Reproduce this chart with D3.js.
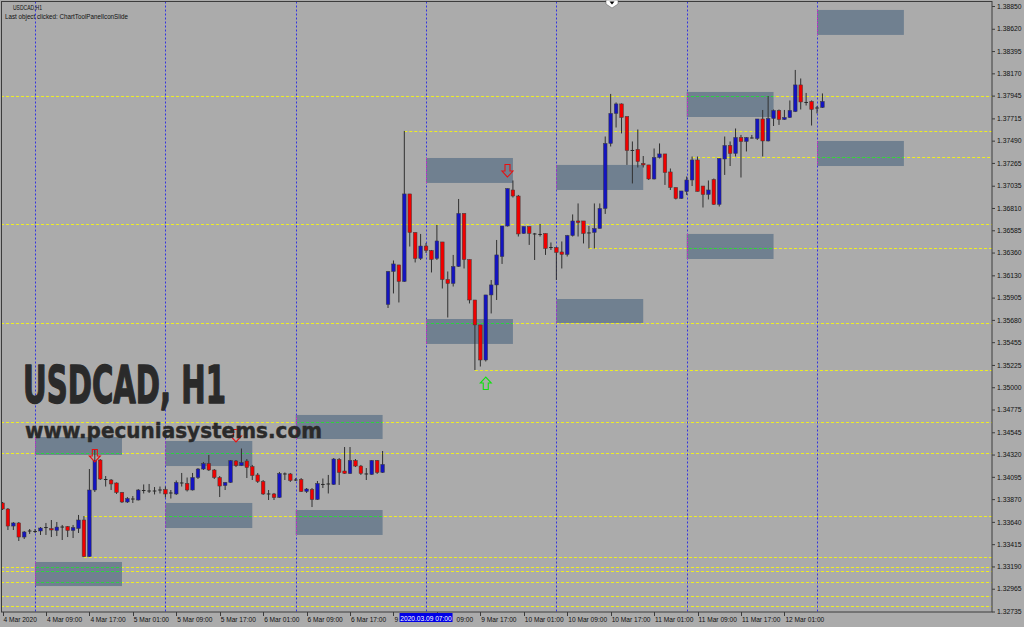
<!DOCTYPE html>
<html><head><meta charset="utf-8">
<script src="https://cdn.jsdelivr.net/npm/d3@7"></script>
<style>
html,body{margin:0;padding:0;background:#ababab;overflow:hidden;}
svg{display:block;}
</style></head><body>
<svg id="c" width="1024" height="627"></svg>
<script>
// ---------------- DATA ----------------
const opens = [1.33831,1.33770,1.33598,1.33629,1.33487,1.33553,1.33548,1.33548,1.33588,1.33573,1.33553,1.33593,1.33593,1.33553,1.33573,1.33659,1.33290,1.33962,1.34265,1.34073,1.34063,1.34033,1.33937,1.33841,1.33876,1.33861,1.33962,1.33957,1.33955,1.33965,1.33967,1.33935,1.33922,1.34038,1.34028,1.33962,1.34088,1.34174,1.34230,1.34164,1.34088,1.34007,1.34038,1.34255,1.34209,1.34255,1.34199,1.34114,1.34048,1.33927,1.33922,1.33886,1.34129,1.34124,1.34068,1.34068,1.33947,1.33967,1.33866,1.34023,1.34026,1.34018,1.34270,1.34154,1.34129,1.34260,1.34204,1.34129,1.34119,1.34260,1.34139,1.35836,1.36169,1.36235,1.36068,1.36952,1.36563,1.36300,1.36426,1.36381,1.36300,1.36467,1.36088,1.36048,1.36219,1.36755,1.36290,1.35881,1.35629,1.35275,1.35932,1.36033,1.36320,1.36628,1.36992,1.36931,1.36553,1.36623,1.36553,1.36546,1.36553,1.36406,1.36411,1.36366,1.36341,1.36532,1.36679,1.36679,1.36563,1.36563,1.36603,1.36805,1.37462,1.37765,1.37861,1.37734,1.37394,1.37401,1.37260,1.37245,1.37103,1.37320,1.37356,1.37174,1.37017,1.36906,1.36977,1.37093,1.37295,1.37032,1.36947,1.37098,1.36846,1.37305,1.37441,1.37361,1.37522,1.37482,1.37520,1.37512,1.37709,1.37487,1.37714,1.37795,1.37704,1.37724,1.37784,1.38053,1.37881,1.37886,1.37815,1.37825];
const highs = [1.33841,1.33780,1.33639,1.33639,1.33548,1.33568,1.33568,1.33588,1.33629,1.33659,1.33639,1.33609,1.33598,1.33609,1.33710,1.33699,1.34174,1.34366,1.34275,1.34103,1.34073,1.34038,1.33942,1.33891,1.33901,1.33972,1.34018,1.34023,1.33992,1.33997,1.33997,1.33962,1.34058,1.34134,1.34088,1.34134,1.34184,1.34245,1.34316,1.34174,1.34103,1.34043,1.34265,1.34265,1.34381,1.34275,1.34215,1.34134,1.34063,1.33962,1.33932,1.34144,1.34139,1.34134,1.34083,1.34083,1.33982,1.33982,1.34053,1.34078,1.34114,1.34285,1.34285,1.34396,1.34396,1.34275,1.34215,1.34184,1.34265,1.34265,1.34356,1.36174,1.36280,1.36235,1.37588,1.36952,1.36563,1.36548,1.36457,1.36386,1.36639,1.36467,1.36169,1.36336,1.36901,1.36755,1.36290,1.35881,1.35629,1.35932,1.36083,1.36487,1.36628,1.37007,1.37088,1.36942,1.36623,1.36623,1.36558,1.36649,1.36553,1.36462,1.36416,1.36472,1.36538,1.36745,1.36856,1.36679,1.36628,1.36856,1.36856,1.37532,1.37962,1.37876,1.37866,1.37734,1.37482,1.37603,1.37335,1.37245,1.37411,1.37462,1.37356,1.37209,1.37017,1.36982,1.37128,1.37330,1.37330,1.37032,1.37088,1.37108,1.37310,1.37532,1.37482,1.37613,1.37548,1.37527,1.37548,1.37709,1.37800,1.37941,1.37805,1.37805,1.37800,1.37896,1.38204,1.38118,1.37972,1.37896,1.37840,1.37967];
const lows = [1.33760,1.33558,1.33558,1.33447,1.33467,1.33518,1.33528,1.33508,1.33508,1.33487,1.33497,1.33457,1.33487,1.33477,1.33528,1.33285,1.33285,1.33942,1.34063,1.33997,1.33962,1.33922,1.33831,1.33831,1.33831,1.33856,1.33927,1.33932,1.33917,1.33927,1.33886,1.33876,1.33912,1.33997,1.33947,1.33957,1.34073,1.34164,1.34154,1.34073,1.33891,1.33962,1.34033,1.34194,1.34204,1.34083,1.34063,1.34033,1.33912,1.33861,1.33861,1.33881,1.34063,1.34043,1.34053,1.33942,1.33932,1.33790,1.33861,1.33982,1.33927,1.34013,1.34013,1.34124,1.34124,1.34194,1.34114,1.34063,1.34114,1.34124,1.34134,1.35800,1.35947,1.35856,1.36063,1.36421,1.36260,1.36285,1.36356,1.36159,1.36285,1.35997,1.35704,1.36017,1.36214,1.36199,1.35846,1.35174,1.35209,1.35260,1.35745,1.35881,1.36245,1.36623,1.36916,1.36522,1.36548,1.36437,1.36285,1.36522,1.36336,1.36386,1.36083,1.36199,1.36320,1.36522,1.36522,1.36452,1.36401,1.36401,1.36603,1.36750,1.37431,1.37623,1.37563,1.37245,1.37058,1.37219,1.37219,1.37093,1.37098,1.37310,1.37043,1.36992,1.36896,1.36901,1.36942,1.37032,1.36977,1.36815,1.36896,1.36841,1.36825,1.37144,1.37234,1.37330,1.37118,1.37381,1.37512,1.37497,1.37330,1.37482,1.37638,1.37649,1.37699,1.37719,1.37779,1.37805,1.37845,1.37643,1.37765,1.37820];
const closes = [1.33770,1.33598,1.33629,1.33487,1.33538,1.33548,1.33548,1.33578,1.33583,1.33558,1.33588,1.33588,1.33553,1.33583,1.33659,1.33290,1.33962,1.34260,1.34073,1.34068,1.34023,1.33937,1.33841,1.33876,1.33871,1.33962,1.33960,1.33955,1.33957,1.33967,1.33922,1.33937,1.34038,1.34036,1.33962,1.34088,1.34174,1.34230,1.34164,1.34088,1.34002,1.34038,1.34260,1.34209,1.34240,1.34189,1.34108,1.34048,1.33922,1.33925,1.33886,1.34129,1.34127,1.34058,1.34066,1.33947,1.33972,1.33866,1.34028,1.34021,1.34028,1.34275,1.34139,1.34129,1.34260,1.34204,1.34129,1.34127,1.34260,1.34139,1.34220,1.36169,1.36245,1.36068,1.36952,1.36563,1.36300,1.36426,1.36381,1.36290,1.36477,1.36088,1.36048,1.36219,1.36755,1.36290,1.35881,1.35629,1.35275,1.35932,1.36033,1.36336,1.36628,1.37007,1.36931,1.36548,1.36623,1.36553,1.36551,1.36548,1.36401,1.36416,1.36361,1.36341,1.36532,1.36679,1.36664,1.36553,1.36561,1.36603,1.36805,1.37462,1.37765,1.37861,1.37724,1.37391,1.37396,1.37280,1.37245,1.37103,1.37320,1.37356,1.37169,1.37017,1.36906,1.36982,1.37093,1.37295,1.36977,1.36947,1.36992,1.36846,1.37310,1.37441,1.37361,1.37522,1.37482,1.37522,1.37522,1.37709,1.37487,1.37714,1.37795,1.37704,1.37724,1.37795,1.38053,1.37881,1.37879,1.37805,1.37825,1.37886];

const priceTicks = [1.38850,1.38620,1.38395,1.38170,1.37945,1.37715,1.37490,1.37265,1.37035,1.36810,1.36585,1.36360,1.36130,1.35905,1.35680,1.35455,1.35225,1.35000,1.34775,1.34545,1.34320,1.34095,1.33870,1.33640,1.33415,1.33190,1.32965,1.32735];
const timeLabelIdx = [0,8,16,24,32,40,48,56,64,72,80,88,96,104,112,120,128,136,144];
const timeLabels = ["4 Mar 2020","4 Mar 09:00","4 Mar 17:00","5 Mar 01:00","5 Mar 09:00","5 Mar 17:00","6 Mar 01:00","6 Mar 09:00","6 Mar 17:00","9 Mar 01:00","9 Mar 09:00","9 Mar 17:00","10 Mar 01:00","10 Mar 09:00","10 Mar 17:00","11 Mar 01:00","11 Mar 09:00","11 Mar 17:00","12 Mar 01:00"];
const separatorIdx = [6,30,54,78,102,126,150];

const zoneStartIdx = [6,6,30,30,54,54,78,78,102,102,126,126,150,150];
const zoneEndIdx   = [22,22,46,46,70,70,94,94,118,118,142,142,166,166];
const zoneTop      = [1.34497,1.33235,1.34457,1.33831,1.34720,1.33760,1.37315,1.35689,1.37245,1.35891,1.37982,1.36548,1.38810,1.37487];
const zoneBottom   = [1.34316,1.32992,1.34204,1.33578,1.34477,1.33508,1.37063,1.35437,1.36992,1.35649,1.37729,1.36295,1.38558,1.37234];

const levelPrices = [1.37941,1.37588,1.37330,1.36646,1.36403,1.35646,1.35174,1.34652,1.34333,1.33699,1.33282,1.33187,1.33149,1.33036,1.32894,1.32793];
const levelFromIdx = [null,74,127,null,108,null,87,null,null,15,15,null,null,null,null,null];

const downArrowIdx = [17,43,93];
const downArrowTip = [1.34245,1.34447,1.37123];
const upArrowIdx = [89];
const upArrowTip = [1.35103];

const crossLabel = "2020.03.09 07:00";
const crossIdx = 78;

// ---------------- DRAW ----------------
const W = 1024, H = 627;
const plotL = 1, plotR = 992, plotT = 1.5, plotB = 612;
const svg = d3.select("#c");
const x = d3.scaleLinear().domain([0, 151]).range([2.5, 2.5 + 151 * 5.43]);
const y = d3.scaleLinear().domain([1.32735, 1.38850]).range([611.5, 6]);
const uiFont = "'Liberation Sans',Arial,sans-serif";

svg.append("rect").attr("width", W).attr("height", H).attr("fill", "#ababab");

const defs = svg.append("defs");
const cp = defs.append("clipPath").attr("id", "zoneclip");
const cpPlot = defs.append("clipPath").attr("id", "plotclip");
cpPlot.append("rect").attr("x", plotL).attr("y", plotT).attr("width", plotR - plotL).attr("height", plotB - plotT);

const zones = d3.range(zoneTop.length).map(k => ({
  x0: x(zoneStartIdx[k]), x1: x(zoneEndIdx[k]), y0: y(zoneTop[k]), y1: y(zoneBottom[k])
}));
cp.selectAll("rect").data(zones).join("rect")
  .attr("x", d => d.x0).attr("y", d => d.y0).attr("width", d => d.x1 - d.x0).attr("height", d => d.y1 - d.y0);

const plot = svg.append("g").attr("clip-path", "url(#plotclip)");

// zones (background objects)
plot.append("g").selectAll("rect").data(zones).join("rect")
  .attr("x", d => d.x0).attr("y", d => d.y0).attr("width", d => d.x1 - d.x0).attr("height", d => d.y1 - d.y0)
  .attr("fill", "#708090");

// lines drawn twice: normal, and XOR-coloured inside zones
function drawLines(g, yellow, blue) {
  g.selectAll("line.lv").data(levelPrices).join("line").attr("class", "lv")
    .attr("x1", (p, k) => levelFromIdx[k] === null ? plotL : x(levelFromIdx[k]))
    .attr("x2", plotR)
    .attr("y1", p => Math.round(y(p)) + 0.5).attr("y2", p => Math.round(y(p)) + 0.5)
    .attr("stroke", yellow).attr("stroke-width", 1).attr("stroke-dasharray", "3,2");
  g.selectAll("line.sep").data(separatorIdx).join("line").attr("class", "sep")
    .attr("x1", i => Math.round(x(i)) + 0.5).attr("x2", i => Math.round(x(i)) + 0.5)
    .attr("y1", plotT).attr("y2", plotB)
    .attr("stroke", blue).attr("stroke-width", 1).attr("stroke-dasharray", "2,2");
}
drawLines(plot.append("g"), "#eeee22", "#3333e0");
drawLines(plot.append("g").attr("clip-path", "url(#zoneclip)"), "#2ed43b", "#d52bc4");

// candles
const bars = d3.range(opens.length).map(i => ({ i, o: opens[i], h: highs[i], l: lows[i], c: closes[i] }));
const cg = plot.append("g");
cg.selectAll("line.wick").data(bars).join("line").attr("class", "wick")
  .attr("x1", d => x(d.i)).attr("x2", d => x(d.i))
  .attr("y1", d => y(d.h)).attr("y2", d => y(d.l))
  .attr("stroke", "#303030").attr("stroke-width", 1);
const bw = 3.6;
cg.selectAll("rect.body").data(bars).join("rect").attr("class", "body")
  .attr("x", d => x(d.i) - bw / 2)
  .attr("y", d => Math.min(y(d.o), y(d.c)))
  .attr("width", bw)
  .attr("height", d => Math.max(1, Math.abs(y(d.o) - y(d.c))))
  .attr("fill", d => Math.abs(y(d.o) - y(d.c)) < 1.2 ? "#282828" : (d.c >= d.o ? "#1414c0" : "#f00000"))
  .attr("stroke", d => Math.abs(y(d.o) - y(d.c)) < 1.2 ? "none" : "#3a3a3a")
  .attr("stroke-width", 0.5);

// arrows
const downPath = "M0,0 L-5.5,-6 L-2.5,-6 L-2.5,-12.5 L2.5,-12.5 L2.5,-6 L5.5,-6 Z";
plot.append("g").selectAll("path").data(downArrowIdx).join("path")
  .attr("d", downPath)
  .attr("transform", (i, k) => `translate(${x(i)},${y(downArrowTip[k])})`)
  .attr("fill", "none").attr("stroke", "#e81010").attr("stroke-width", 1.1);
plot.append("g").selectAll("path").data(upArrowIdx).join("path")
  .attr("d", downPath)
  .attr("transform", (i, k) => `translate(${x(i)},${y(upArrowTip[k])}) scale(1,-1)`)
  .attr("fill", "none").attr("stroke", "#10e010").attr("stroke-width", 1.1);

// watermark texts
const wmFont = "'DejaVu Sans Condensed','Liberation Sans Narrow','DejaVu Sans',sans-serif";
svg.append("text").attr("x", 23).attr("y", 403)
  .attr("font-family", wmFont).attr("font-weight", "bold").attr("font-size", 52)
  .attr("fill", "#2a2a2a").attr("stroke", "#2a2a2a").attr("stroke-width", 1.4).attr("stroke-linejoin", "round")
  .attr("textLength", 203).attr("lengthAdjust", "spacingAndGlyphs")
  .text("USDCAD, H1");
svg.append("text").attr("x", 25).attr("y", 438)
  .attr("font-family", wmFont).attr("font-weight", "bold").attr("font-size", 22)
  .attr("fill", "#2a2a2a").attr("stroke", "#2a2a2a").attr("stroke-width", 0.4).attr("stroke-linejoin", "round")
  .attr("textLength", 297).attr("lengthAdjust", "spacingAndGlyphs")
  .text("www.pecuniasystems.com");

// top-left info texts
svg.append("text").attr("x", 13).attr("y", 9.5)
  .attr("font-family", uiFont).attr("font-size", 6.8).attr("fill", "#111")
  .attr("textLength", 29).attr("lengthAdjust", "spacingAndGlyphs").text("USDCAD,H1");
svg.append("text").attr("x", 5).attr("y", 18.5)
  .attr("font-family", uiFont).attr("font-size", 6.8).attr("fill", "#111")
  .attr("textLength", 123).attr("lengthAdjust", "spacingAndGlyphs").text("Last object clicked: ChartToolPanelIconSlide");

// frame
svg.append("rect").attr("x", plotL + 0.5).attr("y", plotT).attr("width", plotR - plotL - 0.5).attr("height", plotB - plotT)
  .attr("fill", "none").attr("stroke", "#3c3c3c").attr("stroke-width", 1);

// price axis
const yAxis = d3.axisRight(y).tickValues(priceTicks).tickSize(3).tickPadding(2).tickFormat(d3.format(".5f"));
const ya = svg.append("g").attr("transform", `translate(${plotR},0)`).call(yAxis);
ya.select(".domain").remove();
ya.selectAll("line").attr("stroke", "#3c3c3c");
ya.selectAll("text").attr("font-family", uiFont).attr("font-size", 6.8).attr("fill", "#111");

// crosshair time label box
const cx = x(crossIdx);
const bx0 = cx - 26.5, bx1 = cx + 26.5;

// time axis (labels hidden behind the crosshair box are cut at word boundaries)
const tg = svg.append("g");
tg.selectAll("line").data(timeLabelIdx).join("line")
  .attr("x1", i => Math.round(x(i)) + 0.5).attr("x2", i => Math.round(x(i)) + 0.5)
  .attr("y1", plotB).attr("y2", plotB + 4).attr("stroke", "#3c3c3c");
tg.selectAll("text").data(timeLabelIdx).join("text")
  .attr("x", i => x(i) + 1).attr("y", 621.5)
  .attr("font-family", uiFont).attr("font-size", 6.6).attr("fill", "#111")
  .text((i, k) => timeLabels[k])
  .each(function (i, k) {
    const full = timeLabels[k];
    const t = d3.select(this);
    const x0 = +t.attr("x");
    const w = this.getComputedTextLength();
    if (x0 < bx1 && x0 + w > bx0) {
      if (x0 < bx0) {
        let n = full.length;
        while (n > 0 && x0 + this.getSubStringLength(0, n) > bx0 - 1) n--;
        t.text(full.slice(0, n).trim());
      } else {
        let cut = -1;
        for (let s = 0; s < full.length; s++) {
          if (full[s] === " " && x0 + this.getSubStringLength(0, s + 1) >= bx1) { cut = s + 1; break; }
        }
        if (cut < 0) { t.text(""); }
        else {
          const off = this.getSubStringLength(0, cut);
          t.text(full.slice(cut)).attr("x", x0 + off);
        }
      }
    }
  });

svg.append("rect").attr("x", bx0).attr("y", 613).attr("width", bx1 - bx0).attr("height", 9).attr("fill", "#0000e6");
svg.append("text").attr("x", cx).attr("y", 620.5).attr("text-anchor", "middle")
  .attr("font-family", uiFont).attr("font-size", 6.6).attr("fill", "#fff")
  .text(crossLabel);

// chart-shift marker at the top
svg.append("path").attr("d", "M606,0 L618,0 L618,4 L612,8 L606,4 Z").attr("fill", "#fff").attr("stroke", "#555").attr("stroke-width", 0.5);
svg.append("path").attr("d", "M609.5,1.5 L614.5,1.5 L612,4.5 Z").attr("fill", "#000");
</script>
</body></html>
